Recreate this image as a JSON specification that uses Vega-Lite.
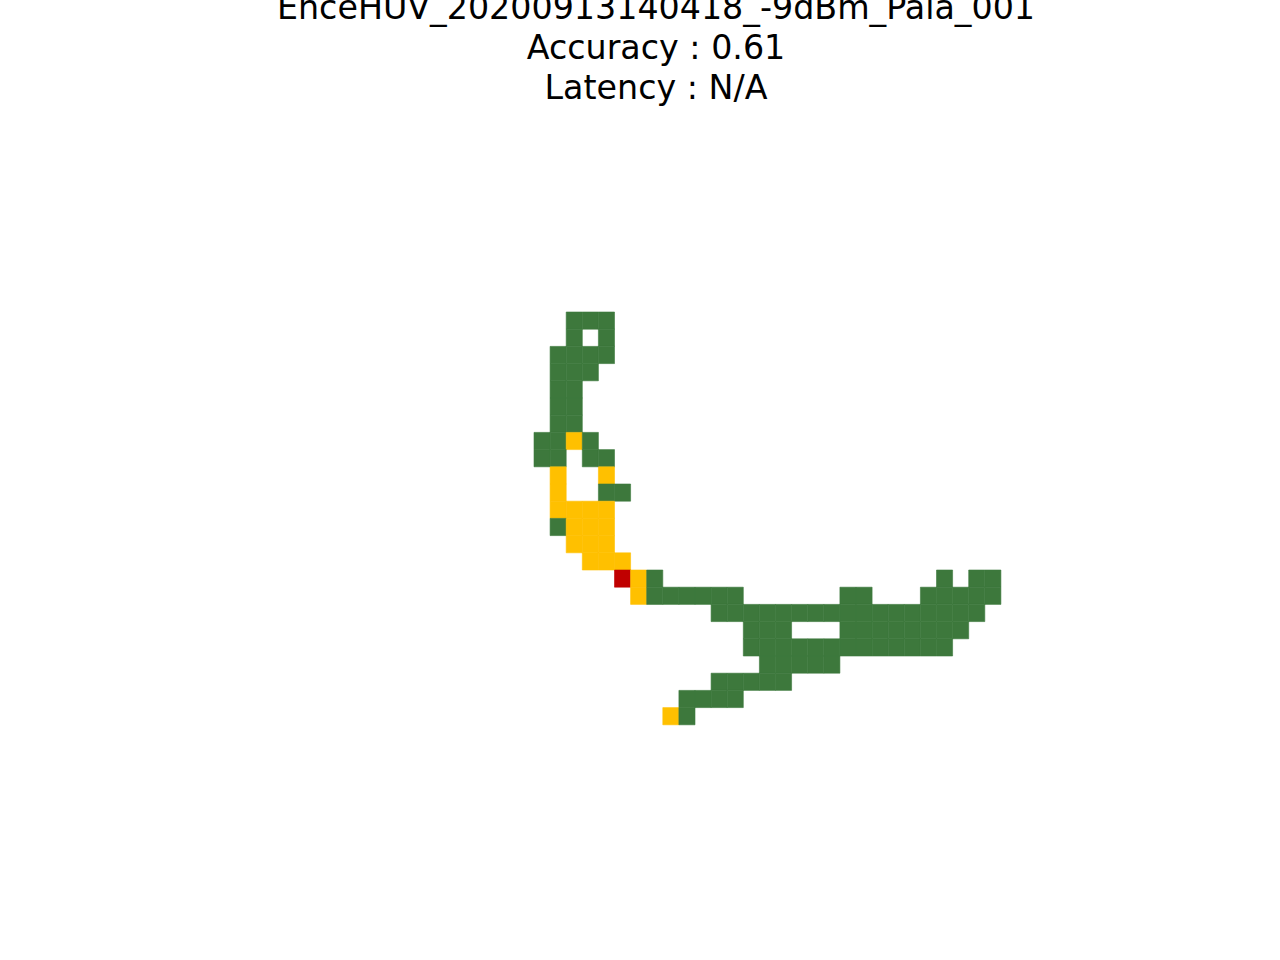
{
  "$schema": "https://vega.github.io/schema/vega-lite/v6.json",
  "width": 466.9,
  "height": 412.8,
  "autosize": {"type": "none"},
  "padding": {"left": 534, "top": 312, "right": 279.1, "bottom": 235.2},
  "background": "white",
  "config": {"view": {"stroke": null}},
  "title": {
    "text": ["EnceHUV_20200913140418_-9dBm_Pala_001", "Accuracy : 0.61", "Latency : N/A"],
    "font": "DejaVu Sans",
    "fontSize": 33.3,
    "fontWeight": "normal",
    "lineHeight": 40,
    "color": "black",
    "anchor": "middle",
    "offset": 205,
    "dx": -111.45
  },
  "data": {
    "values": [
      {"row": 0, "col": 2, "class": "hit"}, {"row": 0, "col": 3, "class": "hit"}, {"row": 0, "col": 4, "class": "hit"},
      {"row": 1, "col": 2, "class": "hit"}, {"row": 1, "col": 4, "class": "hit"},
      {"row": 2, "col": 1, "class": "hit"}, {"row": 2, "col": 2, "class": "hit"}, {"row": 2, "col": 3, "class": "hit"}, {"row": 2, "col": 4, "class": "hit"},
      {"row": 3, "col": 1, "class": "hit"}, {"row": 3, "col": 2, "class": "hit"}, {"row": 3, "col": 3, "class": "hit"},
      {"row": 4, "col": 1, "class": "hit"}, {"row": 4, "col": 2, "class": "hit"},
      {"row": 5, "col": 1, "class": "hit"}, {"row": 5, "col": 2, "class": "hit"},
      {"row": 6, "col": 1, "class": "hit"}, {"row": 6, "col": 2, "class": "hit"},
      {"row": 7, "col": 0, "class": "hit"}, {"row": 7, "col": 1, "class": "hit"}, {"row": 7, "col": 2, "class": "near"}, {"row": 7, "col": 3, "class": "hit"},
      {"row": 8, "col": 0, "class": "hit"}, {"row": 8, "col": 1, "class": "hit"}, {"row": 8, "col": 3, "class": "hit"}, {"row": 8, "col": 4, "class": "hit"},
      {"row": 9, "col": 1, "class": "near"}, {"row": 9, "col": 4, "class": "near"},
      {"row": 10, "col": 1, "class": "near"}, {"row": 10, "col": 4, "class": "hit"}, {"row": 10, "col": 5, "class": "hit"},
      {"row": 11, "col": 1, "class": "near"}, {"row": 11, "col": 2, "class": "near"}, {"row": 11, "col": 3, "class": "near"}, {"row": 11, "col": 4, "class": "near"},
      {"row": 12, "col": 1, "class": "hit"}, {"row": 12, "col": 2, "class": "near"}, {"row": 12, "col": 3, "class": "near"}, {"row": 12, "col": 4, "class": "near"},
      {"row": 13, "col": 2, "class": "near"}, {"row": 13, "col": 3, "class": "near"}, {"row": 13, "col": 4, "class": "near"},
      {"row": 14, "col": 3, "class": "near"}, {"row": 14, "col": 4, "class": "near"}, {"row": 14, "col": 5, "class": "near"},
      {"row": 15, "col": 5, "class": "miss"}, {"row": 15, "col": 6, "class": "near"}, {"row": 15, "col": 7, "class": "hit"}, {"row": 15, "col": 25, "class": "hit"}, {"row": 15, "col": 27, "class": "hit"}, {"row": 15, "col": 28, "class": "hit"},
      {"row": 16, "col": 6, "class": "near"}, {"row": 16, "col": 7, "class": "hit"}, {"row": 16, "col": 8, "class": "hit"}, {"row": 16, "col": 9, "class": "hit"}, {"row": 16, "col": 10, "class": "hit"}, {"row": 16, "col": 11, "class": "hit"}, {"row": 16, "col": 12, "class": "hit"}, {"row": 16, "col": 19, "class": "hit"}, {"row": 16, "col": 20, "class": "hit"}, {"row": 16, "col": 24, "class": "hit"}, {"row": 16, "col": 25, "class": "hit"}, {"row": 16, "col": 26, "class": "hit"}, {"row": 16, "col": 27, "class": "hit"}, {"row": 16, "col": 28, "class": "hit"},
      {"row": 17, "col": 11, "class": "hit"}, {"row": 17, "col": 12, "class": "hit"}, {"row": 17, "col": 13, "class": "hit"}, {"row": 17, "col": 14, "class": "hit"}, {"row": 17, "col": 15, "class": "hit"}, {"row": 17, "col": 16, "class": "hit"}, {"row": 17, "col": 17, "class": "hit"}, {"row": 17, "col": 18, "class": "hit"}, {"row": 17, "col": 19, "class": "hit"}, {"row": 17, "col": 20, "class": "hit"}, {"row": 17, "col": 21, "class": "hit"}, {"row": 17, "col": 22, "class": "hit"}, {"row": 17, "col": 23, "class": "hit"}, {"row": 17, "col": 24, "class": "hit"}, {"row": 17, "col": 25, "class": "hit"}, {"row": 17, "col": 26, "class": "hit"}, {"row": 17, "col": 27, "class": "hit"},
      {"row": 18, "col": 13, "class": "hit"}, {"row": 18, "col": 14, "class": "hit"}, {"row": 18, "col": 15, "class": "hit"}, {"row": 18, "col": 19, "class": "hit"}, {"row": 18, "col": 20, "class": "hit"}, {"row": 18, "col": 21, "class": "hit"}, {"row": 18, "col": 22, "class": "hit"}, {"row": 18, "col": 23, "class": "hit"}, {"row": 18, "col": 24, "class": "hit"}, {"row": 18, "col": 25, "class": "hit"}, {"row": 18, "col": 26, "class": "hit"},
      {"row": 19, "col": 13, "class": "hit"}, {"row": 19, "col": 14, "class": "hit"}, {"row": 19, "col": 15, "class": "hit"}, {"row": 19, "col": 16, "class": "hit"}, {"row": 19, "col": 17, "class": "hit"}, {"row": 19, "col": 18, "class": "hit"}, {"row": 19, "col": 19, "class": "hit"}, {"row": 19, "col": 20, "class": "hit"}, {"row": 19, "col": 21, "class": "hit"}, {"row": 19, "col": 22, "class": "hit"}, {"row": 19, "col": 23, "class": "hit"}, {"row": 19, "col": 24, "class": "hit"}, {"row": 19, "col": 25, "class": "hit"},
      {"row": 20, "col": 14, "class": "hit"}, {"row": 20, "col": 15, "class": "hit"}, {"row": 20, "col": 16, "class": "hit"}, {"row": 20, "col": 17, "class": "hit"}, {"row": 20, "col": 18, "class": "hit"},
      {"row": 21, "col": 11, "class": "hit"}, {"row": 21, "col": 12, "class": "hit"}, {"row": 21, "col": 13, "class": "hit"}, {"row": 21, "col": 14, "class": "hit"}, {"row": 21, "col": 15, "class": "hit"},
      {"row": 22, "col": 9, "class": "hit"}, {"row": 22, "col": 10, "class": "hit"}, {"row": 22, "col": 11, "class": "hit"}, {"row": 22, "col": 12, "class": "hit"},
      {"row": 23, "col": 8, "class": "near"}, {"row": 23, "col": 9, "class": "hit"}
    ]
  },
  "mark": {"type": "rect", "strokeWidth": 0.6},
  "encoding": {
    "x": {
      "field": "col", "type": "ordinal",
      "scale": {"domain": [0,1,2,3,4,5,6,7,8,9,10,11,12,13,14,15,16,17,18,19,20,21,22,23,24,25,26,27,28], "paddingInner": 0, "paddingOuter": 0},
      "axis": null
    },
    "y": {
      "field": "row", "type": "ordinal",
      "scale": {"domain": [0,1,2,3,4,5,6,7,8,9,10,11,12,13,14,15,16,17,18,19,20,21,22,23], "paddingInner": 0, "paddingOuter": 0},
      "axis": null
    },
    "color": {
      "field": "class", "type": "nominal",
      "scale": {"domain": ["hit", "near", "miss"], "range": ["#3d783c", "#ffc000", "#c00000"]},
      "legend": null
    },
    "stroke": {
      "field": "class", "type": "nominal",
      "scale": {"domain": ["hit", "near", "miss"], "range": ["#3d783c", "#ffc000", "#c00000"]},
      "legend": null
    }
  }
}
